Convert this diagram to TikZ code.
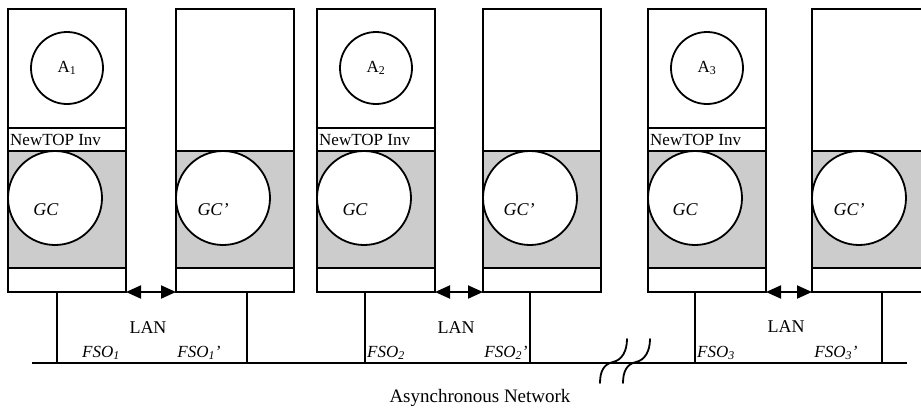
\documentclass[tikz,border=0pt]{standalone}
\usepackage{fontspec}
\setmainfont{Liberation Serif}
\usetikzlibrary{arrows.meta}
\begin{document}
\begin{tikzpicture}[x=1pt,y=-1pt,
  unit/.style={draw, line width=1.9pt, minimum width=118pt, minimum height=283pt,
               anchor=north west, inner sep=0pt, outer sep=0pt},
  band/.style={draw, fill=black!20, line width=1.9pt},
  sep/.style={line width=1.9pt},
  appcirc/.style={circle, draw, fill=white, line width=1.8pt, minimum size=72pt, inner sep=0pt,
                  font=\fontsize{17}{17}\selectfont},
  gccirc/.style={circle, draw, fill=white, line width=1.8pt, minimum size=94pt, inner sep=0pt},
  gctext/.style={font=\itshape\fontsize{18}{18}\selectfont, inner sep=0pt},
  invtext/.style={font=\fontsize{17}{17}\selectfont, inner sep=0pt, anchor=west},
  lantext/.style={font=\fontsize{18}{18}\selectfont, inner sep=0pt},
  fsotext/.style={font=\itshape\fontsize{17}{17}\selectfont, inner sep=0pt},
  wire/.style={line width=1.9pt},
  dbl/.style={{Triangle[length=15pt 0,width=13pt 0]}-{Triangle[length=15pt 0,width=13pt 0]}, line width=1.9pt},
  brk/.style={line width=1.8pt, line cap=round}
]
\useasboundingbox (0,0) rectangle (921,408);

% grey bands
\foreach \x in {8,176,317,483,648,812}
  \draw[band] (\x,151) rectangle ++(118,117);

% unit boxes
\node[unit] (b1) at (8,9) {};
\node[unit] (b2) at (176,9) {};
\node[unit] (b3) at (317,9) {};
\node[unit] (b4) at (483,9) {};
\node[unit] (b5) at (648,9) {};
\node[unit] (b6) at (812,9) {};

% NewTOP Inv rows
\foreach \x in {8,317,648}
  \draw[sep] (\x,128) -- ++(118,0);
\node[invtext] (inv1) at (10,140) {NewTOP Inv};
\node[invtext] (inv2) at (319,140) {NewTOP Inv};
\node[invtext] (inv3) at (650,140) {NewTOP Inv};

% application circles
\node[appcirc] (a1) at (67,68) {A\textsubscript{1}};
\node[appcirc] (a2) at (376,68) {A\textsubscript{2}};
\node[appcirc] (a3) at (707,68) {A\textsubscript{3}};

% GC circles
\node[gccirc] (g1) at (55,198) {};
\node[gccirc] (g2) at (223,198) {};
\node[gccirc] (g3) at (364,198) {};
\node[gccirc] (g4) at (530,198) {};
\node[gccirc] (g5) at (695,198) {};
\node[gccirc] (g6) at (859,198) {};
\node[gctext] (gt1) at (46,210) {GC};
\node[gctext] (gt2) at (213,210) {GC'};
\node[gctext] (gt3) at (355,210) {GC};
\node[gctext] (gt4) at (519,210) {GC'};
\node[gctext] (gt5) at (685,210) {GC};
\node[gctext] (gt6) at (849,210) {GC'};

% network
\coordinate (netL) at (32,363);
\coordinate (netR) at (907,363);
\draw[wire] (netL) -- (netR);

% LAN drops
\coordinate (d1) at (57,363);
\coordinate (d2) at (247,363);
\coordinate (d3) at (365,363);
\coordinate (d4) at (530,363);
\coordinate (d5) at (695,363);
\coordinate (d6) at (882,363);
\draw[wire] (d1 |- b1.south) -- (d1);
\draw[wire] (d2 |- b2.south) -- (d2);
\draw[wire] (d3 |- b3.south) -- (d3);
\draw[wire] (d4 |- b4.south) -- (d4);
\draw[wire] (d5 |- b5.south) -- (d5);
\draw[wire] (d6 |- b6.south) -- (d6);

% double arrows between paired units
\draw[dbl] (b1.south east) -- (b2.south west);
\draw[dbl] (b3.south east) -- (b4.south west);
\draw[dbl] (b5.south east) -- (b6.south west);

% LAN labels
\node[lantext] (lan1) at (148,328) {LAN};
\node[lantext] (lan2) at (456,328) {LAN};
\node[lantext] (lan3) at (786,327) {LAN};

% FSO labels
\node[fsotext] (f1) at (101,353) {FSO\textsubscript{1}};
\node[fsotext] (f1p) at (199,353) {FSO\textsubscript{1}'};
\node[fsotext] (f2) at (386,353) {FSO\textsubscript{2}};
\node[fsotext] (f2p) at (506,353) {FSO\textsubscript{2}'};
\node[fsotext] (f3) at (716,353) {FSO\textsubscript{3}};
\node[fsotext] (f3p) at (836,353) {FSO\textsubscript{3}'};

% break marks on the network line
\draw[brk] (600,383) .. controls (600,371) and (604,364) .. (613,362)
                     .. controls (622,360) and (627,351) .. (627,339);
\draw[brk] (623,383) .. controls (623,371) and (627,364) .. (636,362)
                     .. controls (645,360) and (650,351) .. (650,339);

% caption
\node[lantext, font=\fontsize{19}{19}\selectfont] (cap) at (480,398) {Asynchronous Network};
\end{tikzpicture}
\end{document}
